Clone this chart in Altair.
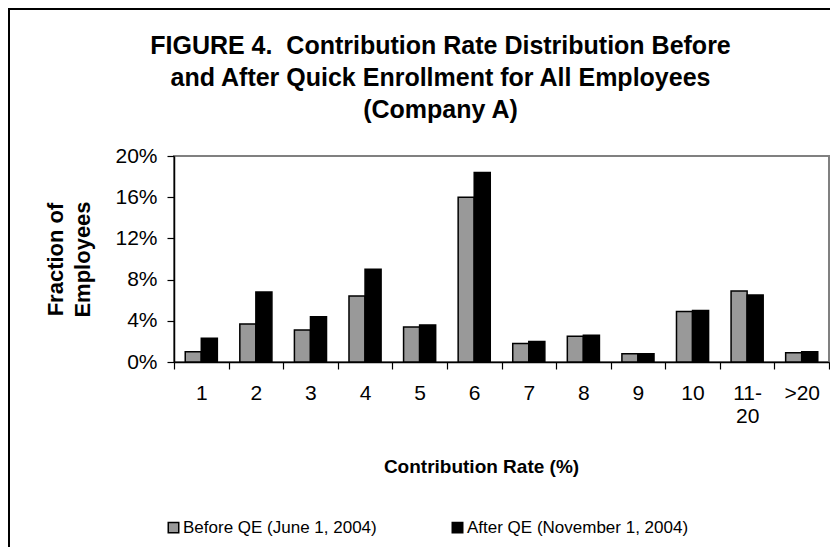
import altair as alt
import pandas as pd

categories = ["1", "2", "3", "4", "5", "6", "7", "8", "9", "10", "11-20", ">20"]
before_qe = [1.0, 3.7, 3.1, 6.4, 3.4, 16.0, 1.8, 2.5, 0.8, 4.9, 6.9, 0.9]
after_qe = [2.3, 6.8, 4.4, 9.0, 3.6, 18.4, 2.0, 2.6, 0.8, 5.0, 6.5, 1.0]
series = ["Before QE (June 1, 2004)", "After QE (November 1, 2004)"]
colors = ["#999999", "#000000"]

rows = []
for c, b, a in zip(categories, before_qe, after_qe):
    rows.append({"rate": c, "series": series[0], "value": b / 100})
    rows.append({"rate": c, "series": series[1], "value": a / 100})
df = pd.DataFrame(rows)

FONT = "Liberation Sans"

bars = alt.Chart(df).mark_bar(stroke="black", strokeWidth=1.5).encode(
    x=alt.X(
        "rate:N",
        sort=categories,
        scale=alt.Scale(paddingInner=0, paddingOuter=0),
        axis=alt.Axis(
            title="Contribution Rate (%)",
            labelAngle=0,
            tickBand="extent",
            tickSize=7,
            labelPadding=13,
            labelFontSize=21,
            labelLineHeight=23,
            labelExpr="datum.value == '11-20' ? ['11-', '20'] : datum.label",
            titleFontSize=19,
            titleFontWeight="bold",
            titlePadding=31,
            titleX=307,
        ),
    ),
    xOffset=alt.XOffset("series:N", sort=series, scale=alt.Scale(paddingOuter=0.7, paddingInner=0)),
    y=alt.Y(
        "value:Q",
        scale=alt.Scale(domain=[0, 0.2]),
        axis=alt.Axis(
            title=["Fraction of", "Employees"],
            format=".0%",
            values=[0, 0.04, 0.08, 0.12, 0.16, 0.2],
            grid=False,
            tickSize=7,
            labelPadding=10,
            labelFontSize=21,
            titleFontSize=22,
            titleFontWeight="bold",
            titlePadding=20,
            titleLineHeight=27,
        ),
    ),
    color=alt.Color(
        "series:N",
        sort=series,
        scale=alt.Scale(domain=series, range=colors),
        legend=alt.Legend(
            title=None,
            orient="none",
            direction="horizontal",
            legendX=-9,
            legendY=363,
            symbolType="square",
            symbolSize=110,
            symbolStrokeColor="black",
            symbolStrokeWidth=1.5,
            labelFontSize=17,
            labelOffset=1,
            labelLimit=400,
            columnPadding=72,
        ),
    ),
)

frame = alt.Chart(alt.Data(values=[{"a": 1}])).mark_rect(
    fillOpacity=0, stroke="black", strokeWidth=2
).encode(
    x=alt.value(-165), x2=alt.value(720), y=alt.value(-147), y2=alt.value(450)
)

chart = alt.layer(frame, bars).properties(
    width=655,
    height=206,
    autosize="none",
    padding={"left": 166, "top": 148, "right": 1, "bottom": 185},
    title=alt.TitleParams(
        text=[
            "FIGURE 4.\u00a0 Contribution Rate Distribution Before",
            "and After Quick Enrollment for All Employees",
            "(Company A)",
        ],
        fontSize=25,
        fontWeight="bold",
        anchor="middle",
        frame="group",
        dx=-61,
        offset=-115,
        lineHeight=32,
        color="black",
    ),
).configure(
    font=FONT,
).configure_view(
    stroke="#808080", strokeWidth=2
).configure_axis(
    domainColor="black",
    domainWidth=1.5,
    tickColor="black",
    tickWidth=1.2,
    labelColor="black",
    titleColor="black",
    labelFont=FONT,
    titleFont=FONT,
).configure_legend(
    labelColor="black", labelFont=FONT
)

chart.save("out.html", embed_options={"renderer": "svg", "actions": False})
